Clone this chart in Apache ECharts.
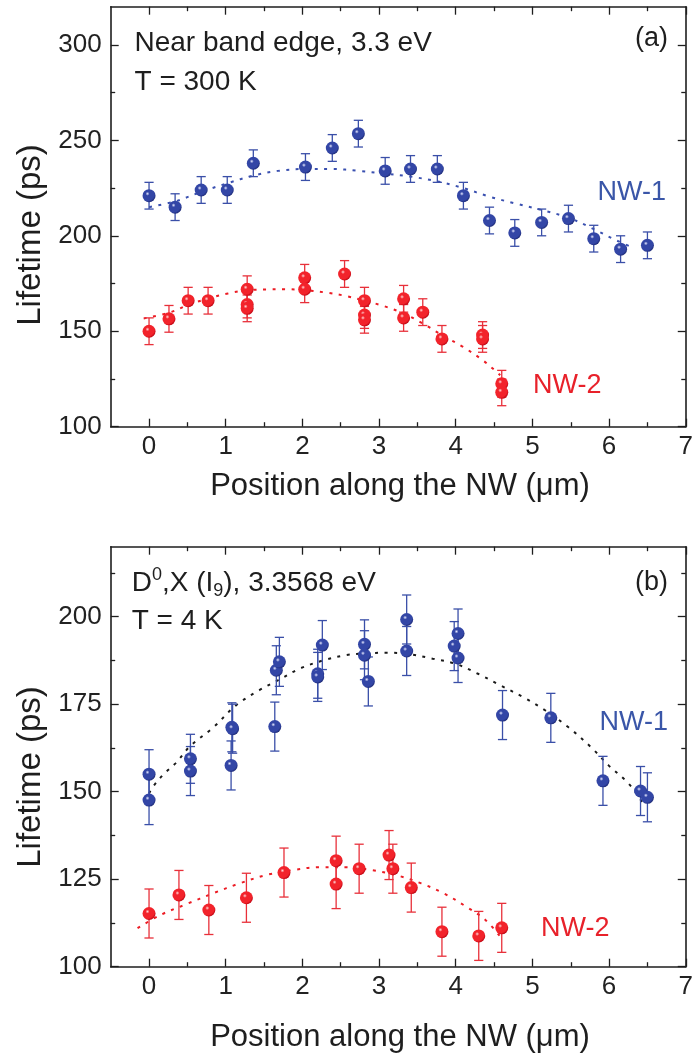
<!DOCTYPE html>
<html>
<head>
<meta charset="utf-8">
<script src="https://cdn.jsdelivr.net/npm/echarts@6/dist/echarts.min.js"></script>
<style>
html,body{margin:0;padding:0;background:#fff;}
#chart{width:696px;height:1055px;}
</style>
</head>
<body>
<div id="chart"></div>
<script>
// ---------- DATA ----------
// Panel (a): near band edge, 300 K
var topNW1X = [0, 0.34, 0.68, 1.02, 1.36, 2.04, 2.39, 2.73, 3.08, 3.41, 3.76, 4.10, 4.44, 4.77, 5.12, 5.47, 5.80, 6.15, 6.50];
var topNW1Y = [221, 215, 224, 224, 238, 236, 246, 253.5, 234, 235, 235, 221, 208, 201.5, 207, 209, 198.5, 193, 195];
var topNW1Err = [7, 7, 7, 7, 7, 7, 7, 7, 7, 7, 7, 7, 7, 7, 7, 7, 7, 7, 7];

var topNW2X = [0, 0.26, 0.51, 0.77, 1.28, 1.28, 1.28, 2.03, 2.03, 2.55, 2.81, 2.81, 2.81, 3.32, 3.32, 3.57, 3.82, 4.35, 4.35, 4.60, 4.60];
var topNW2Y = [150, 156.5, 166, 166, 172, 164, 162, 178, 172, 180, 166, 158.5, 156, 167, 157, 160, 146, 148, 146, 122.5, 118];
var topNW2Err = [7, 7, 7, 7, 7, 7, 7, 7, 7, 7, 7, 7, 7, 7, 7, 7, 7, 7, 7, 7, 7];

var topFit1X = [0, 0.34, 0.68, 1.02, 1.36, 1.68, 2.04, 2.39, 2.73, 3.08, 3.41, 3.76, 4.10, 4.44, 4.77, 5.12, 5.47, 5.80, 6.10, 6.33];
var topFit1Y = [215, 218, 223, 227.5, 231.5, 234, 235, 235, 234, 232.5, 231, 228.5, 225, 220.5, 217, 213.5, 209.5, 203.5, 197.5, 193.5];

var topFit2X = [-0.07, 0.26, 0.51, 0.77, 1.03, 1.28, 1.53, 1.77, 2.03, 2.32, 2.55, 2.81, 3.06, 3.32, 3.57, 3.82, 4.09, 4.35, 4.53, 4.58];
var topFit2Y = [156.7, 159.7, 163.7, 167.2, 169.8, 171.5, 171.9, 172, 171.5, 170.2, 168.6, 166, 163.2, 159.3, 154.1, 148, 141.9, 134.9, 128.8, 127];

// Panel (b): D0,X (I9), 4 K
var botNW1X = [0, 0, 0.54, 0.54, 1.08, 1.09, 1.07, 1.64, 1.66, 1.70, 2.20, 2.20, 2.26, 2.81, 2.81, 2.86, 3.36, 3.36, 3.98, 4.03, 4.03, 4.61, 5.24, 5.92, 6.41, 6.50];
var botNW1Y = [155, 147.6, 159.4, 155.9, 168.4, 168, 157.5, 168.6, 184.7, 187.1, 183.7, 182.8, 191.9, 192.1, 189, 181.5, 199.2, 190.2, 191.6, 195.2, 188.2, 171.9, 171.1, 153.1, 150.2, 148.4];
var botNW1Err = [7, 7, 7, 7, 7, 7, 7, 7, 7, 7, 7, 7, 7, 7, 7, 7, 7, 7, 7, 7, 7, 7, 7, 7, 7, 7];

var botNW2X = [0, 0.39, 0.78, 1.27, 1.76, 2.44, 2.44, 2.74, 3.13, 3.18, 3.42, 3.82, 4.30, 4.60];
var botNW2Y = [115.2, 120.5, 116.2, 119.7, 126.9, 130.3, 123.6, 128, 131.9, 128, 122.6, 110, 108.8, 111.1];
var botNW2Err = [7, 7, 7, 7, 7, 7, 7, 7, 7, 7, 7, 7, 7, 7];

var botFit1X = [0, 0.05, 0.2, 0.345, 0.54, 0.84, 1.13, 1.43, 1.68, 1.97, 2.27, 2.56, 2.81, 3.10, 3.40, 3.70, 3.99, 4.29, 4.58, 4.88, 5.17, 5.47, 5.77, 5.99, 6.21, 6.36, 6.46];
var botFit1Y = [149.5, 151.4, 155.2, 158.1, 163.1, 168.4, 174.6, 178.9, 181.8, 185.2, 187.5, 189, 189.5, 189.7, 189.3, 188, 186.6, 183.7, 180.4, 177, 173.2, 168.4, 162.6, 157.6, 153.3, 149.5, 145.7];

var botFit2X = [-0.15, 0.15, 0.49, 0.84, 1.18, 1.53, 1.87, 2.22, 2.56, 2.91, 3.25, 3.55, 3.84, 4.14, 4.39, 4.58];
var botFit2Y = [111, 114.8, 117.9, 121, 123.8, 126.2, 127.6, 128.4, 128.4, 127.6, 126, 123.8, 121, 117.1, 113.3, 108.6];

// Tick labels
var xTickLabels = [0, 1, 2, 3, 4, 5, 6, 7];
var xMinorTicks = [0.5, 1.5, 2.5, 3.5, 4.5, 5.5, 6.5];
var yTickLabelsTop = [100, 150, 200, 250, 300];
var yMinorTop = [125, 175, 225, 275];
var yTickLabelsBot = [100, 125, 150, 175, 200];
var yMinorBot = [112.5, 137.5, 162.5, 187.5, 212.5];

// ---------- BUILD ----------
var FONT = '"Liberation Sans", Arial, Helvetica, sans-serif';
var AX = '#1e1e1e';
var RED = '#ec1c24';

function zip(xs, ys) { return xs.map(function (x, i) { return [x, ys[i]]; }); }
function errData(xs, ys, es) { return xs.map(function (x, i) { return [x, ys[i], ys[i] - es[i], ys[i] + es[i]]; }); }

function sphere(base, dark, light) {
  return {
    type: 'radial', x: 0.38, y: 0.35, r: 0.7,
    colorStops: [
      { offset: 0, color: light },
      { offset: 0.22, color: base },
      { offset: 0.75, color: base },
      { offset: 1, color: dark }
    ]
  };
}
var blueBall = sphere('#3346a6', '#1a2670', '#e6e9ff');
var redBall = sphere('#f2232b', '#b5000e', '#ffd8d8');

function xAxes(g, min, max) {
  var base = {
    type: 'value', gridIndex: g, min: min, max: max,
    splitLine: { show: false }
  };
  return [
    Object.assign({}, base, {
      position: 'bottom',
      axisLine: { show: true, onZero: false, lineStyle: { color: AX, width: 1.6 } },
      axisTick: { show: true, inside: true, length: 8, customValues: xTickLabels, lineStyle: { color: AX, width: 1.3 } },
      axisLabel: { show: true, customValues: xTickLabels, margin: 7, color: '#222', fontSize: 26, fontFamily: FONT }
    }),
    Object.assign({}, base, {
      position: 'bottom',
      axisLine: { show: false, onZero: false },
      axisTick: { show: true, inside: true, length: 4.5, customValues: xMinorTicks, lineStyle: { color: AX, width: 1.3 } },
      axisLabel: { show: false }
    }),
    Object.assign({}, base, {
      position: 'top',
      axisLine: { show: true, onZero: false, lineStyle: { color: AX, width: 1.6 } },
      axisTick: { show: true, inside: true, length: 8, customValues: xTickLabels, lineStyle: { color: AX, width: 1.3 } },
      axisLabel: { show: false }
    }),
    Object.assign({}, base, {
      position: 'top',
      axisLine: { show: false, onZero: false },
      axisTick: { show: true, inside: true, length: 4.5, customValues: xMinorTicks, lineStyle: { color: AX, width: 1.3 } },
      axisLabel: { show: false }
    })
  ];
}
function yAxes(g, min, max, major, minor) {
  var base = {
    type: 'value', gridIndex: g, min: min, max: max,
    splitLine: { show: false }
  };
  return [
    Object.assign({}, base, {
      position: 'left',
      axisLine: { show: true, onZero: false, lineStyle: { color: AX, width: 1.6 } },
      axisTick: { show: true, inside: true, length: 8, customValues: major, lineStyle: { color: AX, width: 1.3 } },
      axisLabel: { show: true, customValues: major, margin: 9, color: '#222', fontSize: 26, fontFamily: FONT }
    }),
    Object.assign({}, base, {
      position: 'left',
      axisLine: { show: false, onZero: false },
      axisTick: { show: true, inside: true, length: 4.5, customValues: minor, lineStyle: { color: AX, width: 1.3 } },
      axisLabel: { show: false }
    }),
    Object.assign({}, base, {
      position: 'right',
      axisLine: { show: true, onZero: false, lineStyle: { color: AX, width: 1.6 } },
      axisTick: { show: true, inside: true, length: 8, customValues: major, lineStyle: { color: AX, width: 1.3 } },
      axisLabel: { show: false }
    }),
    Object.assign({}, base, {
      position: 'right',
      axisLine: { show: false, onZero: false },
      axisTick: { show: true, inside: true, length: 4.5, customValues: minor, lineStyle: { color: AX, width: 1.3 } },
      axisLabel: { show: false }
    })
  ];
}

function errSeries(name, xi, yi, data, color) {
  return {
    name: name, type: 'custom', xAxisIndex: xi, yAxisIndex: yi, z: 3,
    renderItem: function (params, api) {
      var x = api.value(0);
      var lo = api.coord([x, api.value(2)]);
      var hi = api.coord([x, api.value(3)]);
      var w = 4.6;
      var st = { stroke: color, lineWidth: 1.3, fill: null };
      return {
        type: 'group', children: [
          { type: 'line', shape: { x1: lo[0], y1: lo[1], x2: hi[0], y2: hi[1] }, style: st },
          { type: 'line', shape: { x1: lo[0] - w, y1: lo[1], x2: lo[0] + w, y2: lo[1] }, style: st },
          { type: 'line', shape: { x1: hi[0] - w, y1: hi[1], x2: hi[0] + w, y2: hi[1] }, style: st }
        ]
      };
    },
    data: data, silent: true, animation: false
  };
}
function ptSeries(name, xi, yi, data, ball) {
  return {
    name: name, type: 'scatter', xAxisIndex: xi, yAxisIndex: yi, z: 5,
    symbol: 'circle', symbolSize: 13,
    itemStyle: { color: ball, opacity: 1 },
    data: data, silent: true, animation: false
  };
}
function fitSeries(name, xi, yi, data, color) {
  return {
    name: name, type: 'line', xAxisIndex: xi, yAxisIndex: yi, z: 2,
    showSymbol: false, symbol: 'none', smooth: 0.35,
    lineStyle: { color: color, width: 2, type: [3, 6.5], cap: 'butt' },
    data: data, silent: true, animation: false
  };
}

var option = {
  backgroundColor: '#ffffff',
  animation: false,
  grid: [
    { left: 110.7, top: 6.7, width: 578, height: 420, containLabel: false },
    { left: 110.7, top: 546.7, width: 578, height: 420, containLabel: false }
  ],
  xAxis: xAxes(0, -0.5, 7).concat(xAxes(1, -0.5, 7)),
  yAxis: yAxes(0, 100, 320, yTickLabelsTop, yMinorTop).concat(yAxes(1, 100, 220, yTickLabelsBot, yMinorBot)),
  series: [
    fitSeries('fit NW-1 (a)', 0, 0, zip(topFit1X, topFit1Y), '#3a50b0'),
    fitSeries('fit NW-2 (a)', 0, 0, zip(topFit2X, topFit2Y), RED),
    errSeries('err NW-1 (a)', 0, 0, errData(topNW1X, topNW1Y, topNW1Err), '#3a4fa8'),
    errSeries('err NW-2 (a)', 0, 0, errData(topNW2X, topNW2Y, topNW2Err), '#e8303a'),
    ptSeries('NW-1 (a)', 0, 0, zip(topNW1X, topNW1Y), blueBall),
    ptSeries('NW-2 (a)', 0, 0, zip(topNW2X, topNW2Y), redBall),

    fitSeries('fit NW-1 (b)', 4, 4, zip(botFit1X, botFit1Y), '#1a1a1a'),
    fitSeries('fit NW-2 (b)', 4, 4, zip(botFit2X, botFit2Y), RED),
    errSeries('err NW-1 (b)', 4, 4, errData(botNW1X, botNW1Y, botNW1Err), '#3a4fa8'),
    errSeries('err NW-2 (b)', 4, 4, errData(botNW2X, botNW2Y, botNW2Err), '#e8303a'),
    ptSeries('NW-1 (b)', 4, 4, zip(botNW1X, botNW1Y), blueBall),
    ptSeries('NW-2 (b)', 4, 4, zip(botNW2X, botNW2Y), redBall)
  ],
  graphic: [
    // axis titles
    { type: 'text', x: 400, y: 486, style: { text: 'Position along the NW (\u03bcm)', font: '31px ' + FONT, fill: '#1e1e1e', align: 'center', verticalAlign: 'middle' } },
    { type: 'text', x: 400, y: 1037, style: { text: 'Position along the NW (\u03bcm)', font: '31px ' + FONT, fill: '#1e1e1e', align: 'center', verticalAlign: 'middle' } },
    { type: 'text', x: 31, y: 235, rotation: Math.PI / 2, style: { text: 'Lifetime (ps)', font: '33px ' + FONT, fill: '#1e1e1e', align: 'center', verticalAlign: 'middle' } },
    { type: 'text', x: 31, y: 777, rotation: Math.PI / 2, style: { text: 'Lifetime (ps)', font: '33px ' + FONT, fill: '#1e1e1e', align: 'center', verticalAlign: 'middle' } },
    // panel (a) annotations
    { type: 'text', x: 134.5, y: 43.5, style: { text: 'Near band edge, 3.3 eV', font: '28px ' + FONT, fill: '#1e1e1e', align: 'left', verticalAlign: 'middle' } },
    { type: 'text', x: 134.5, y: 82.5, style: { text: 'T = 300 K', font: '28px ' + FONT, fill: '#1e1e1e', align: 'left', verticalAlign: 'middle' } },
    { type: 'text', x: 668, y: 39, style: { text: '(a)', font: '27px ' + FONT, fill: '#1e1e1e', align: 'right', verticalAlign: 'middle' } },
    { type: 'text', x: 666, y: 193, style: { text: 'NW-1', font: '27px ' + FONT, fill: '#3a56a8', align: 'right', verticalAlign: 'middle' } },
    { type: 'text', x: 533, y: 386, style: { text: 'NW-2', font: '27px ' + FONT, fill: '#e8212a', align: 'left', verticalAlign: 'middle' } },
    // panel (b) annotations
    { type: 'text', x: 131.7, y: 583, style: {
        text: '{m|D}{sup|0}{m|,X (I}{sub|9}{m|), 3.3568 eV}',
        fill: '#1e1e1e', align: 'left', verticalAlign: 'middle',
        rich: {
          m: { font: '28px ' + FONT, fill: '#1e1e1e', lineHeight: 34, verticalAlign: 'middle' },
          sup: { font: '18px ' + FONT, fill: '#1e1e1e', lineHeight: 34, verticalAlign: 'top' },
          sub: { font: '18px ' + FONT, fill: '#1e1e1e', lineHeight: 34, verticalAlign: 'bottom' }
        } } },
    { type: 'text', x: 131.7, y: 621.5, style: { text: 'T = 4 K', font: '28px ' + FONT, fill: '#1e1e1e', align: 'left', verticalAlign: 'middle' } },
    { type: 'text', x: 668, y: 583, style: { text: '(b)', font: '27px ' + FONT, fill: '#1e1e1e', align: 'right', verticalAlign: 'middle' } },
    { type: 'text', x: 668, y: 723, style: { text: 'NW-1', font: '27px ' + FONT, fill: '#3a56a8', align: 'right', verticalAlign: 'middle' } },
    { type: 'text', x: 541, y: 928.5, style: { text: 'NW-2', font: '27px ' + FONT, fill: '#e8212a', align: 'left', verticalAlign: 'middle' } }
  ]
};

var chart = echarts.init(document.getElementById('chart'), null, { renderer: 'canvas' });
chart.setOption(option);
</script>
</body>
</html>
